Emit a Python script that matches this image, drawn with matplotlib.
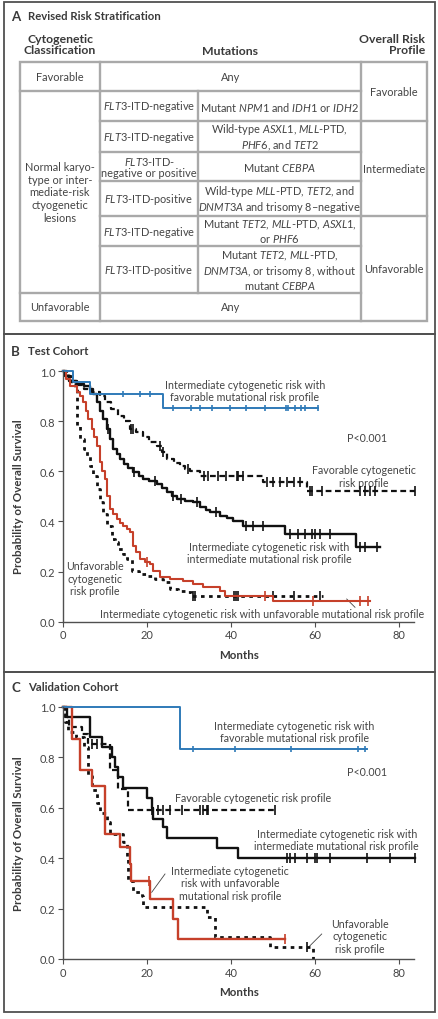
import numpy as np
import matplotlib
matplotlib.use('Agg')
import matplotlib.pyplot as plt
from matplotlib.patches import Rectangle

plt.rcParams['font.family'] = ['Lato', 'DejaVu Sans']
plt.rcParams['mathtext.fontset'] = 'custom'
plt.rcParams['mathtext.rm'] = 'Lato'
plt.rcParams['mathtext.it'] = 'Lato:italic'
plt.rcParams['mathtext.bf'] = 'Lato:bold'

# ---------------- data: table ----------------
col1_labels = ["Favorable", "Normal karyo-\ntype or inter-\nmediate-risk\nctyogenetic\nlesions", "Unfavorable"]
flt3_labels = [r"$\mathit{FLT3}$-ITD-negative", r"$\mathit{FLT3}$-ITD-negative",
               "$\\mathit{FLT3}$-ITD-\nnegative or positive", r"$\mathit{FLT3}$-ITD-positive",
               r"$\mathit{FLT3}$-ITD-negative", r"$\mathit{FLT3}$-ITD-positive"]
mutation_labels = [r"Mutant $\mathit{NPM1}$ and $\mathit{IDH1}$ or $\mathit{IDH2}$",
                   "Wild-type $\\mathit{ASXL1}$, $\\mathit{MLL}$-PTD,\n$\\mathit{PHF6}$, and $\\mathit{TET2}$",
                   r"Mutant $\mathit{CEBPA}$",
                   "Wild-type $\\mathit{MLL}$-PTD, $\\mathit{TET2}$, and\n$\\mathit{DNMT3A}$ and trisomy 8\u2013negative",
                   "Mutant $\\mathit{TET2}$, $\\mathit{MLL}$-PTD, $\\mathit{ASXL1}$,\nor $\\mathit{PHF6}$",
                   "Mutant $\\mathit{TET2}$, $\\mathit{MLL}$-PTD,\n$\\mathit{DNMT3A}$, or trisomy 8, without\nmutant $\\mathit{CEBPA}$"]
risk_labels = ["Favorable", "Intermediate", "Unfavorable"]

# ---------------- data: test cohort (B) ----------------
b_blue_t = [0, 2.5, 6.4, 23.9]
b_blue_s = [1.0, 0.955, 0.908, 0.851]
b_blue_end = 60.8
b_blue_cens = [14.4, 18.3, 20.7, 26.3, 30.6, 32.6, 35.5, 39.8, 43.7, 48.1, 53.1, 53.6, 55.2, 56.8, 57.6, 60.8]

b_fav_t = [0, 1, 2, 3, 5, 7, 8.8, 10, 11.5, 13, 14.5, 16, 17.5, 19, 20.5, 22.3, 23.5, 24.7, 26.5, 27.9, 29, 30.2, 32.6, 47.7, 58.0]
b_fav_s = [1.0, 0.98, 0.96, 0.945, 0.93, 0.915, 0.90, 0.875, 0.85, 0.82, 0.80, 0.77, 0.755, 0.735, 0.715, 0.70, 0.675, 0.65, 0.635, 0.622, 0.61, 0.60, 0.582, 0.558, 0.522]
b_fav_end = 83.8
b_fav_cens = [16.3, 16.7, 23.1, 23.9, 29.8, 33.5, 34.6, 36.9, 38.9, 41.4, 41.7, 42.9, 48.5, 50.1, 51.7, 53.3, 54.9, 56.4,
              58.8, 59.2, 61.6, 70.7, 71.9, 73.1, 74.3, 83.8]

b_int_t = [0, 0.5, 1.5, 3.3, 5, 6.4, 7.2, 8, 8.8, 9.6, 10.4, 11.2, 12, 12.8, 13.6, 14.5, 15.5, 16.7, 18, 19.1, 20.5, 22.3,
           23.5, 24.8, 26, 27.1, 29, 31, 32.6, 34, 35, 37.4, 39, 40.5, 42.9, 52.9, 69.9]
b_int_s = [1.0, 0.98, 0.96, 0.948, 0.94, 0.928, 0.91, 0.875, 0.84, 0.81, 0.77, 0.73, 0.69, 0.67, 0.65, 0.63, 0.615, 0.596,
           0.58, 0.569, 0.56, 0.549, 0.535, 0.516, 0.50, 0.489, 0.482, 0.476, 0.456, 0.445, 0.436, 0.423, 0.413, 0.403,
           0.383, 0.35, 0.297]
b_int_end = 75.5
b_int_cens = [10.6, 17.0, 22.0, 26.3, 28.0, 32.0, 36.5, 43.7, 45.3, 47.7, 54.0, 56.0, 57.6, 59.2, 60.0, 61.2, 63.6, 70.7, 71.9, 74.7]

b_unf_t = [0, 0.5, 1.1, 2, 2.9, 3.3, 4, 5, 5.6, 6.4, 7.2, 8, 8.8, 9.6, 10.4, 11.6, 12.4, 13.2, 14.2, 15.2, 16.4, 18, 19.9,
           22, 23.9, 25.5, 27.5, 29.5, 30.6]
b_unf_s = [1.0, 0.99, 0.98, 0.95, 0.928, 0.78, 0.729, 0.69, 0.662, 0.62, 0.582, 0.53, 0.476, 0.43, 0.383, 0.33, 0.317, 0.29,
           0.27, 0.25, 0.204, 0.19, 0.184, 0.17, 0.157, 0.13, 0.124, 0.117, 0.104]
b_unf_end = 62.0
b_unf_cens = [31.0, 31.4, 40.8, 41.2, 41.7, 50.1, 54.9, 61.2]

b_red_t = [0, 0.6, 1.6, 3.3, 4, 4.8, 5.4, 6, 6.8, 7.4, 8, 8.8, 9.4, 10, 10.4, 11.2, 12, 12.8, 13.6, 14.4, 15.2, 16, 16.7,
           17.5, 18.3, 19.5, 20.7, 21.5, 23.1, 25.5, 28.6, 31, 33.4, 37.4, 38.6, 50.1]
b_red_s = [1.0, 0.97, 0.94, 0.915, 0.90, 0.875, 0.84, 0.809, 0.769, 0.735, 0.702, 0.636, 0.60, 0.569, 0.503, 0.45, 0.43,
           0.41, 0.395, 0.383, 0.37, 0.357, 0.303, 0.277, 0.25, 0.24, 0.23, 0.204, 0.177, 0.17, 0.164, 0.15, 0.137,
           0.124, 0.104, 0.084]
b_red_end = 73.1
b_red_cens = [20.0, 48.1, 59.6, 70.7, 72.7]

# ---------------- data: validation cohort (C) ----------------
c_blue_t = [0, 27.9]
c_blue_s = [1.0, 0.832]
c_blue_end = 72.3
c_blue_cens = [31.0, 41.0, 54.4, 70.3, 71.9]

c_int_t = [0, 0.9, 6.4, 9.2, 11.6, 12.4, 13.2, 14.4, 19.9, 21.1, 21.5, 23.9, 24.7, 36.6, 41.7]
c_int_s = [1.0, 0.958, 0.879, 0.839, 0.80, 0.76, 0.72, 0.678, 0.638, 0.60, 0.555, 0.522, 0.478, 0.439, 0.399]
c_int_end = 83.8
c_int_cens = [53.4, 54.0, 55.2, 58.0, 60.0, 60.5, 63.6, 72.3, 77.9, 83.8]

c_fav_t = [0, 0.5, 1.5, 4.5, 6.0, 11.2, 13.2, 15.6]
c_fav_s = [1.0, 0.96, 0.92, 0.89, 0.852, 0.75, 0.675, 0.59]
c_fav_end = 50.5
c_fav_cens = [6.8, 8.0, 21.1, 22.7, 23.9, 25.5, 28.3, 32.6, 33.4, 34.2, 34.6, 50.5]

c_unf_t = [0, 0.5, 1.2, 3, 5, 6, 7, 8, 8.8, 10.4, 11.2, 14.4, 15.2, 15.6, 16.7, 18.7, 19.1, 34.2, 36.2, 49.3, 59.6]
c_unf_s = [1.0, 0.94, 0.90, 0.88, 0.84, 0.727, 0.67, 0.62, 0.58, 0.543, 0.495, 0.462, 0.396, 0.31, 0.264, 0.25, 0.205,
           0.165, 0.086, 0.046, 0.0]
c_unf_end = 59.6
c_unf_cens = [58.0]

c_red_t = [0, 2.1, 4, 6.8, 10, 13.6, 16, 16.3, 20.7, 26.3, 27.5]
c_red_s = [1.0, 0.872, 0.749, 0.687, 0.495, 0.443, 0.377, 0.31, 0.238, 0.159, 0.079]
c_red_end = 52.9
c_red_cens = [20.5, 52.9]

x_ticks = [0, 20, 40, 60, 80]
y_ticks = [0.0, 0.2, 0.4, 0.6, 0.8, 1.0]

# ---------------- style ----------------
W, H = 438, 1020
TXT = '#3a3a3a'
FRAME = '#505050'
GRID = '#a9a9a9'
BLUE = '#2f7ab8'
RED = '#c6402a'
BLACK = '#111111'

fig = plt.figure(figsize=(W / 100, H / 100), dpi=100)
ov = fig.add_axes([0, 0, 1, 1])
ov.set_xlim(0, W)
ov.set_ylim(H, 0)
ov.axis('off')

# panel frames
for (y0, y1) in [(3, 335), (335, 673), (673, 1013)]:
    ov.add_patch(Rectangle((4, y0), 431, y1 - y0, fill=False, ec=FRAME, lw=1.3))

# panel titles
for y, letter, title in [(17, 'A', 'Revised Risk Stratification'), (352, 'B', 'Test Cohort'),
                         (688, 'C', 'Validation Cohort')]:
    ov.text(11, y, letter, fontsize=9.5, fontweight='bold', color=TXT, ha='left', va='center')
    ov.text(28, y, title, fontsize=8.2, fontweight='bold', color=TXT, ha='left', va='center')

# table headers
HFS = 8.8
ov.text(60, 45, 'Cytogenetic\nClassification', fontsize=HFS, fontweight='bold', color=TXT, ha='center',
        va='center', linespacing=1.05)
ov.text(230, 51.5, 'Mutations', fontsize=HFS, fontweight='bold', color=TXT, ha='center', va='center')
ov.text(425, 45, 'Overall Risk\nProfile', fontsize=HFS, fontweight='bold', color=TXT, ha='right', va='center',
        linespacing=1.05, multialignment='right')

# table grid
cx = [20, 100, 198, 361, 427]
ry = [63, 92, 122, 153, 182, 217, 247, 294, 322]
glw = 1.7
ov.add_patch(Rectangle((cx[0], ry[0]), cx[4] - cx[0], ry[-1] - ry[0], fill=False, ec=GRID, lw=glw))
ov.plot([cx[1], cx[1]], [ry[0], ry[-1]], color=GRID, lw=glw)
ov.plot([cx[3], cx[3]], [ry[0], ry[-1]], color=GRID, lw=glw)
ov.plot([cx[2], cx[2]], [ry[1], ry[-2]], color=GRID, lw=glw)
for y in [ry[1], ry[-2]]:
    ov.plot([cx[0], cx[1]], [y, y], color=GRID, lw=glw)
for y in ry[1:-1]:
    ov.plot([cx[1], cx[3]], [y, y], color=GRID, lw=glw)
for y in [ry[2], ry[5]]:
    ov.plot([cx[3], cx[4]], [y, y], color=GRID, lw=glw)

TFS = 7.9
TC = '#444444'
ov.text((cx[0] + cx[1]) / 2, (ry[0] + ry[1]) / 2, col1_labels[0], fontsize=TFS, color=TC, ha='center', va='center')
ov.text((cx[0] + cx[1]) / 2, (ry[1] + ry[-2]) / 2, col1_labels[1], fontsize=TFS, color=TC, ha='center',
        va='center', linespacing=1.2)
ov.text((cx[0] + cx[1]) / 2, (ry[-2] + ry[-1]) / 2, col1_labels[2], fontsize=TFS, color=TC, ha='center', va='center')
ov.text((cx[1] + cx[3]) / 2, (ry[0] + ry[1]) / 2, 'Any', fontsize=TFS, color=TC, ha='center', va='center')
ov.text((cx[1] + cx[3]) / 2, (ry[-2] + ry[-1]) / 2, 'Any', fontsize=TFS, color=TC, ha='center', va='center')
for i in range(6):
    yc = (ry[i + 1] + ry[i + 2]) / 2
    ov.text((cx[1] + cx[2]) / 2, yc, flt3_labels[i], fontsize=TFS, color=TC, ha='center', va='center',
            linespacing=1.1)
    ov.text((cx[2] + cx[3]) / 2, yc, mutation_labels[i], fontsize=TFS, color=TC, ha='center', va='center',
            linespacing=1.1)
for lab, (a, b) in zip(risk_labels, [(0, 2), (2, 5), (5, 8)]):
    ov.text((cx[3] + cx[4]) / 2, (ry[a] + ry[b]) / 2, lab, fontsize=TFS, color=TC, ha='center', va='center')


def km(ax, t, s, t_end, cens, color, lw, ls, ms=7):
    tt = list(t) + [t_end]
    ss = list(s) + [s[-1]]
    ax.step(tt, ss, where='post', color=color, lw=lw, linestyle=ls, clip_on=False)
    if cens:
        c = np.array(cens)
        idx = np.searchsorted(np.array(t), c, side='right') - 1
        ax.plot(c, np.array(s)[idx], ls='none', marker='|', ms=ms, mew=1.2, color=color, clip_on=False)


def style_axes(ax):
    ax.set_xlim(0, 83.6)
    ax.set_ylim(0, 1.0)
    ax.set_facecolor('none')
    for sp in ['top', 'right']:
        ax.spines[sp].set_visible(False)
    for sp in ['left', 'bottom']:
        ax.spines[sp].set_color(FRAME)
        ax.spines[sp].set_linewidth(1.0)
    ax.set_xticks(x_ticks)
    ax.set_yticks(y_ticks)
    ax.set_yticklabels([f'{v:.1f}' for v in y_ticks])
    ax.tick_params(direction='out', length=3.5, width=0.8, color=FRAME, labelsize=8, labelcolor=TC, pad=2)


DOT = (0, (1.3, 1.6))
DASH = (0, (2.6, 1.6))

axB = fig.add_axes([63 / W, 1 - 622.7 / H, 351 / W, 250.7 / H])
style_axes(axB)
km(axB, b_unf_t, b_unf_s, b_unf_end, b_unf_cens, BLACK, 2.0, DOT)
km(axB, b_fav_t, b_fav_s, b_fav_end, b_fav_cens, BLACK, 1.6, DASH)
km(axB, b_int_t, b_int_s, b_int_end, b_int_cens, BLACK, 1.7, '-')
km(axB, b_red_t, b_red_s, b_red_end, b_red_cens, RED, 1.5, '-')
km(axB, b_blue_t, b_blue_s, b_blue_end, b_blue_cens, BLUE, 1.4, '-', ms=5)

axC = fig.add_axes([63 / W, 1 - 960 / H, 351 / W, 252.3 / H])
style_axes(axC)
km(axC, c_unf_t, c_unf_s, c_unf_end, c_unf_cens, BLACK, 2.0, DOT)
km(axC, c_fav_t, c_fav_s, c_fav_end, c_fav_cens, BLACK, 1.6, DASH)
km(axC, c_int_t, c_int_s, c_int_end, c_int_cens, BLACK, 1.7, '-')
km(axC, c_red_t, c_red_s, c_red_end, c_red_cens, RED, 1.7, '-')
km(axC, c_blue_t, c_blue_s, c_blue_end, c_blue_cens, BLUE, 1.4, '-', ms=5)

# axis labels
AFS = 8.3
for yc, ym in [(497, 656), (834, 993)]:
    ov.text(19, yc, 'Probability of Overall Survival', rotation=90, fontsize=AFS, fontweight='bold', color=TXT,
            ha='center', va='center')
    ov.text(239, ym, 'Months', fontsize=AFS, fontweight='bold', color=TXT, ha='center', va='center')

# annotations B
NFS = 7.7
NC = '#444444'
ov.text(245, 391.5, 'Intermediate cytogenetic risk with\nfavorable mutational risk profile', fontsize=NFS, color=NC,
        ha='center', va='center', linespacing=1.15)
ov.text(367, 439, 'P<0.001', fontsize=NFS, color=NC, ha='center', va='center')
ov.text(364, 477, 'Favorable cytogenetic\nrisk profile', fontsize=NFS, color=NC, ha='center', va='center',
        linespacing=1.15)
ov.text(269.5, 553.7, 'Intermediate cytogenetic risk with\nintermediate mutational risk profile', fontsize=NFS,
        color=NC, ha='center', va='center', linespacing=1.15)
ov.text(95, 579.3, 'Unfavorable\ncytogenetic\nrisk profile', fontsize=NFS, color=NC, ha='center', va='center',
        linespacing=1.15)
ov.text(262, 615, 'Intermediate cytogenetic risk with unfavorable mutational risk profile', fontsize=NFS, color=NC,
        ha='center', va='center')
ov.plot([346.7, 355], [600, 608.3], color=NC, lw=0.6)

# annotations C
ov.text(294, 732.7, 'Intermediate cytogenetic risk with\nfavorable mutational risk profile', fontsize=NFS, color=NC,
        ha='center', va='center', linespacing=1.15)
ov.text(367, 772.3, 'P<0.001', fontsize=NFS, color=NC, ha='center', va='center')
ov.text(253, 799, 'Favorable cytogenetic risk profile', fontsize=NFS, color=NC, ha='center', va='center')
ov.text(336.7, 840.5, 'Intermediate cytogenetic risk with\nintermediate mutational risk profile', fontsize=NFS,
        color=NC, ha='center', va='center', linespacing=1.15)
ov.text(230, 884, 'Intermediate cytogenetic\nrisk with unfavorable\nmutational risk profile', fontsize=NFS, color=NC,
        ha='center', va='center', linespacing=1.15)
ov.plot([165, 151.7], [875, 893.3], color=NC, lw=0.6)
ov.text(360, 937, 'Unfavorable\ncytogenetic\nrisk profile', fontsize=NFS, color=NC, ha='center', va='center',
        linespacing=1.15)
ov.plot([321.7, 306.7], [935, 950], color=NC, lw=0.6)

fig.savefig('out.png', dpi=100)
